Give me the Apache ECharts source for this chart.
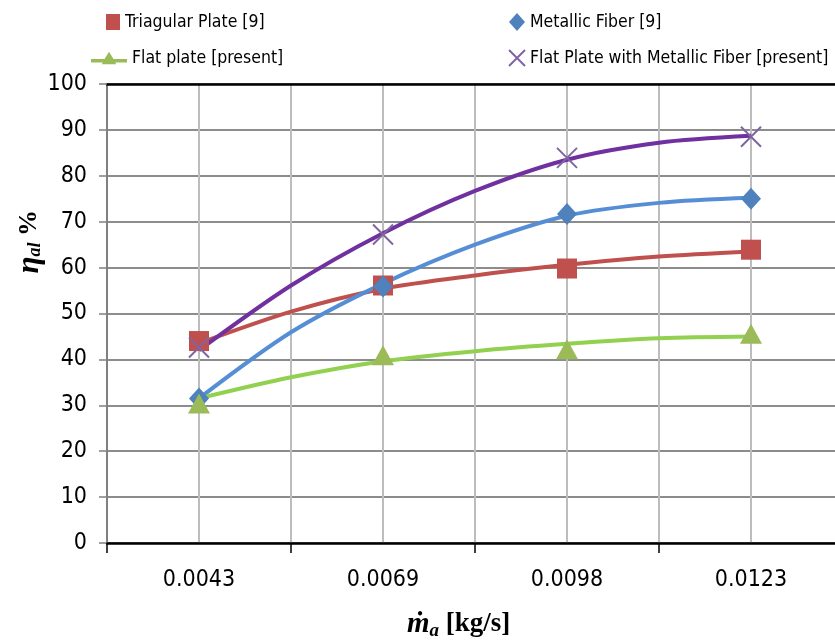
<!DOCTYPE html>
<html>
<head>
<meta charset="utf-8">
<script src="https://cdn.jsdelivr.net/npm/echarts@6/dist/echarts.min.js"></script>
<style>
  html, body { margin: 0; padding: 0; background: #fff; overflow: hidden; }
  /* plot area runs past the right edge of the window, as in the reference */
  #chart { width: 843px; height: 644px; }
</style>
</head>
<body>
<div id="chart"></div>
<script>
const massFlow = ["0.0043", "0.0069", "0.0098", "0.0123"];
const yTicks = [0, 10, 20, 30, 40, 50, 60, 70, 80, 90, 100];

// measured points
const triPlate = [44, 56.1, 59.8, 63.9];
const metalFiber = [31.5, 55.9, 71.7, 75];
const flatPlate = [30.4, 40.9, 42.2, 45.6];
const flatFiber = [42.6, 67.2, 83.9, 88.5];

// trend curves at every category and halfway between
const trendPos = [0, 0.5, 1, 1.5, 2, 2.5, 3];
const triTrend = [43.5, 50.4, 55.4, 58.3, 60.6, 62.4, 63.5];
const fiberTrend = [31.5, 45.9, 56.5, 65, 71.3, 74.1, 75.2];
const flatTrend = [31.5, 36.1, 39.6, 41.8, 43.4, 44.6, 45];
const flatFiberTrend = [42, 56.1, 67.5, 76.7, 83.5, 87.2, 88.7];

const names = ["Triagular Plate [9]", "Metallic Fiber [9]", "Flat plate [present]", "Flat Plate with Metallic Fiber [present]"];

const crossPath = "path://M0,0L20,20M20,0L0,20";
const flatIcon = "path://M0,9L15,9L20,1L25,9L40,9L40,13L27,13L28,15L12,15L13,13L0,13Z";

const chart = echarts.init(document.getElementById("chart"));
const font = "'Liberation Sans Narrow', 'DejaVu Sans Condensed', 'Liberation Sans', sans-serif";
const legendText = { fontFamily: font, fontSize: 17.5, color: "#000" };

function trend(vals, color) {
  return {
    type: "line", xAxisIndex: 2, data: trendPos.map((p, i) => [p, vals[i]]),
    smooth: 0.3, symbol: "none", silent: true, z: 3,
    lineStyle: { color, width: 4 }
  };
}

chart.setOption({
  animation: false,
  grid: { left: 107, right: 0, top: 84, bottom: 101 },
  legend: [
    { data: [names[0]], left: 101, top: 8, itemWidth: 14, itemHeight: 16, textStyle: legendText, itemGap: 0 },
    { data: [names[1]], left: 504, top: 8, itemWidth: 16, itemHeight: 18, textStyle: legendText },
    { data: [{ name: names[2], icon: flatIcon }], left: 86, top: 44, itemWidth: 36, itemHeight: 15, textStyle: legendText },
    { data: [names[3]], left: 503, top: 44, itemWidth: 16, itemHeight: 16, textStyle: legendText }
  ],
  xAxis: [
    {
      type: "category", data: massFlow, boundaryGap: true,
      axisLine: { lineStyle: { color: "#000", width: 2.5 } },
      axisTick: { show: true, length: 10, lineStyle: { color: "#000", width: 1.5 } },
      axisLabel: { fontFamily: font, fontSize: 23, color: "#000", margin: 26 },
      splitLine: { show: false }
    },
    {
      type: "category", data: massFlow, position: "top",
      axisLine: { lineStyle: { color: "#000", width: 2.5 } },
      axisTick: { show: false }, axisLabel: { show: false }, splitLine: { show: false }
    },
    {
      type: "value", min: -0.5, max: 3.5, interval: 0.5, position: "bottom",
      axisLine: { show: false }, axisTick: { show: false }, axisLabel: { show: false },
      splitLine: { show: true, lineStyle: { color: "#bdbdbd", width: 2 } }
    }
  ],
  yAxis: {
    type: "value", min: 0, max: 100, interval: 10,
    axisLine: { show: true, onZero: false, lineStyle: { color: "#808080", width: 2 } },
    axisTick: { show: true, length: 8, lineStyle: { color: "#808080", width: 1.5 } },
    axisLabel: { fontFamily: font, fontSize: 23, color: "#000", margin: 20,
      formatter: v => yTicks.includes(v) ? String(v) : "" },
    splitLine: { show: true, lineStyle: { color: "#8c8c8c", width: 2 } }
  },
  series: [
    trend(triTrend, "#c0504d"),
    trend(fiberTrend, "#558ed5"),
    trend(flatTrend, "#92d050"),
    trend(flatFiberTrend, "#7030a0"),
    { name: names[0], type: "scatter", data: triPlate, symbol: "rect", symbolSize: 20, z: 4,
      itemStyle: { color: "#c0504d", opacity: 1 } },
    { name: names[1], type: "scatter", data: metalFiber, symbol: "diamond", symbolSize: [20, 22], z: 4,
      itemStyle: { color: "#4f81bd", opacity: 1 } },
    { name: names[2], type: "scatter", data: flatPlate, symbol: "triangle", symbolSize: [22, 20], z: 4,
      itemStyle: { color: "#9bbb59", opacity: 1 } },
    { name: names[3], type: "scatter", data: flatFiber, symbol: crossPath, symbolSize: 20, z: 4,
      itemStyle: { color: "transparent", borderColor: "#8064a2", borderWidth: 2, opacity: 1 } }
  ],
  graphic: [
    {
      type: "text", left: 14, top: 210, rotation: Math.PI / 2,
      style: {
        text: "{eta|η}{sub|al}{pct| %}",
        rich: {
          eta: { fontFamily: "'Liberation Serif', serif", fontStyle: "italic", fontWeight: "bold", fontSize: 31, fill: "#000" },
          sub: { fontFamily: "'Liberation Serif', serif", fontStyle: "italic", fontWeight: "bold", fontSize: 18, fill: "#000", padding: [12, 0, 0, 0] },
          pct: { fontFamily: "'Liberation Serif', serif", fontWeight: "bold", fontSize: 26, fill: "#000" }
        }
      }
    },
    {
      type: "text", left: 407, top: 610,
      style: {
        text: "{m|ṁ}{sub|a}{u| [kg/s]}",
        rich: {
          m: { fontFamily: "'Liberation Serif', serif", fontStyle: "italic", fontWeight: "bold", fontSize: 29, fill: "#000" },
          sub: { fontFamily: "'Liberation Serif', serif", fontStyle: "italic", fontWeight: "bold", fontSize: 19, fill: "#000", padding: [13, 0, 0, 0] },
          u: { fontFamily: "'Liberation Serif', serif", fontWeight: "bold", fontSize: 27, fill: "#000" }
        }
      }
    }
  ]
});
</script>
</body>
</html>
